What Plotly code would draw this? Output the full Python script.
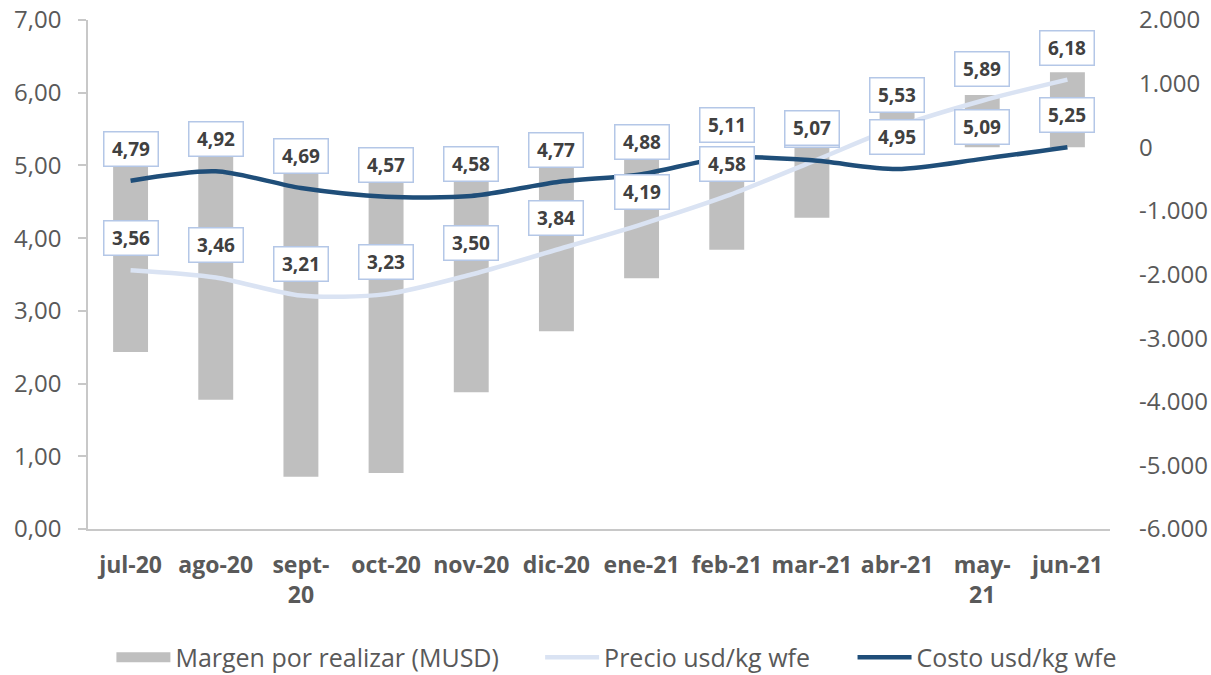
import plotly.graph_objects as go

# Monthly series
meses = ["jul-20", "ago-20", "sept-<br>20", "oct-20", "nov-20", "dic-20",
         "ene-21", "feb-21", "mar-21", "abr-21", "may-<br>21", "jun-21"]
margen_musd = [-3220, -3970, -5180, -5120, -3850, -2890,
               -2060, -1610, -1110, 600, 820, 1180]
precio = [3.56, 3.46, 3.21, 3.23, 3.50, 3.84, 4.19, 4.58, 5.05, 5.53, 5.89, 6.18]
costo = [4.79, 4.92, 4.69, 4.57, 4.58, 4.77, 4.88, 5.11, 5.07, 4.95, 5.09, 5.25]

# Axis ticks
ticks_izq = [0, 1, 2, 3, 4, 5, 6, 7]
ticks_der = [-6000, -5000, -4000, -3000, -2000, -1000, 0, 1000, 2000]


def fmt_dec(v):
    return f"{v:.2f}".replace(".", ",")


def fmt_miles(v):
    return f"{v:,.0f}".replace(",", ".")


FONT = "Open Sans"
GRIS_TXT = "#595959"
GRIS_EJE = "#C8C8C8"
GRIS_BARRA = "#BFBFBF"

fig = go.Figure()

fig.add_trace(go.Bar(
    x=meses, y=margen_musd, name="Margen por realizar (MUSD)",
    marker=dict(color=GRIS_BARRA, line=dict(width=0)),
    width=0.41, yaxis="y", showlegend=False, legendgroup="margen",
))
# wide swatch for the bar series in the legend
fig.add_trace(go.Scatter(
    x=[None], y=[None], name="Margen por realizar (MUSD)", mode="lines",
    line=dict(color=GRIS_BARRA, width=15), yaxis="y", legendgroup="margen",
    legend="legend",
))
fig.add_trace(go.Scatter(
    x=meses, y=precio, name="Precio usd/kg wfe", mode="lines",
    line=dict(color="#DAE3F3", width=4.5, shape="spline", smoothing=0.8),
    yaxis="y2", legend="legend2",
))
fig.add_trace(go.Scatter(
    x=meses, y=costo, name="Costo usd/kg wfe", mode="lines",
    line=dict(color="#1F4E79", width=4.5, shape="spline", smoothing=0.8),
    yaxis="y2", legend="legend3",
))

# Boxed value labels above each point
anotaciones = []
for serie in (precio, costo):
    for m, v in zip(meses, serie):
        anotaciones.append(dict(
            x=m, y=v, xref="x", yref="y2", text=f"<b>{fmt_dec(v)}</b>",
            showarrow=False, yshift=32, width=51, height=31,
            bgcolor="white", bordercolor="#B4C7E7", borderwidth=1.5, borderpad=1,
            font=dict(family=FONT, size=19, color="#404040"),
        ))


def leyenda(x):
    return dict(
        orientation="h", xref="container", yref="container",
        x=x, xanchor="left", y=0.026, yanchor="middle",
        font=dict(family=FONT, size=25, color=GRIS_TXT),
        itemwidth=54, bgcolor="rgba(0,0,0,0)",
    )


fig.update_layout(
    width=1211, height=675,
    margin=dict(l=88, r=101, t=20, b=146, autoexpand=False),
    paper_bgcolor="white", plot_bgcolor="white",
    separators=",.",
    showlegend=True,
    legend=leyenda(0.092),
    legend2=leyenda(0.446),
    legend3=leyenda(0.704),
    xaxis=dict(
        showline=True, linecolor=GRIS_EJE, linewidth=1.5,
        showgrid=False, ticks="", ticklabelstandoff=15,
        tickfont=dict(family=FONT, size=23, color=GRIS_TXT, weight="bold"),
    ),
    yaxis=dict(
        side="right", range=[-6000, 2000],
        tickvals=ticks_der, ticktext=[fmt_miles(v) for v in ticks_der],
        showgrid=False, zeroline=False, showline=False, ticks="",
        ticklabelstandoff=28,
        tickfont=dict(family=FONT, size=24, color=GRIS_TXT),
    ),
    yaxis2=dict(
        side="left", overlaying="y", range=[0, 7],
        tickvals=ticks_izq, ticktext=[fmt_dec(v) for v in ticks_izq],
        showgrid=False, zeroline=False,
        showline=True, linecolor=GRIS_EJE, linewidth=1.5,
        ticks="outside", ticklen=8, tickcolor=GRIS_EJE, tickwidth=1.5,
        ticklabelstandoff=12,
        tickfont=dict(family=FONT, size=24, color=GRIS_TXT),
    ),
    annotations=anotaciones,
)

fig.write_html("out.html")
